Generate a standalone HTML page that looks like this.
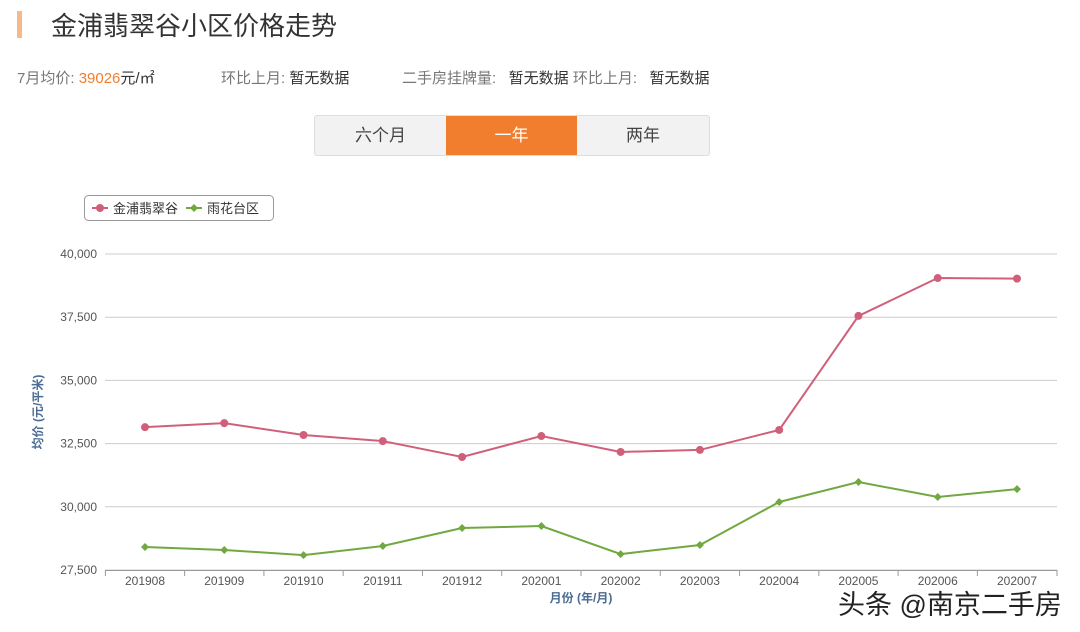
<!DOCTYPE html>
<html><head><meta charset="utf-8"><style>
body{margin:0;width:1080px;height:632px;background:#fff;font-family:"Liberation Sans","Noto Sans CJK SC",sans-serif;position:relative;overflow:hidden}
.a{position:absolute;white-space:nowrap}
</style></head><body>
<div class="a" style="left:17px;top:11px;width:5px;height:27px;background:#f5b98a"></div>
<div class="a" style="left:51px;top:6px;font-size:26px;color:#333">金浦翡翠谷小区价格走势</div>
<div class="a" style="left:17px;top:67px;font-size:15px;color:#777">7月均价: <span style="color:#f07e2e">39026</span><span style="color:#333">元/㎡</span></div>
<div class="a" style="left:221px;top:67px;font-size:15px;color:#777">环比上月: <span style="color:#333">暂无数据</span></div>
<div class="a" style="left:402px;top:67px;font-size:15px;color:#777">二手房挂牌量: &nbsp;&nbsp;<span style="color:#333">暂无数据</span> 环比上月: &nbsp;&nbsp;<span style="color:#333">暂无数据</span></div>
<div class="a" style="left:314px;top:115px;width:394px;height:39px;border:1px solid #ddd;border-radius:3px;background:#f2f2f2;display:flex;font-size:17px;color:#444;overflow:hidden">
<div style="width:131px;text-align:center;line-height:39px">六个月</div>
<div style="width:131px;text-align:center;line-height:39px;background:#f07e2e;color:#fff">一年</div>
<div style="width:132px;text-align:center;line-height:39px">两年</div>
</div>
<div class="a" style="left:838px;top:583px;font-size:27px;color:#222">头条 @南京二手房</div>
<svg class="a" style="left:0;top:0" width="1080" height="632" id="chart"></svg>
<script>
const categories=["201908","201909","201910","201911","201912","202001","202002","202003","202004","202005","202006","202007"];
const seriesJinpu=[33150,33310,32840,32600,31970,32800,32170,32250,33040,37550,39050,39026];
const seriesYuhua=[28410,28290,28090,28450,29160,29240,28130,28490,30190,30980,30390,30700];
const yTicks=[27500,30000,32500,35000,37500,40000];
const NS="http://www.w3.org/2000/svg",svg=document.getElementById('chart');
const L=105,R=1057,x0=145,step=(1017-145)/11;
const xs=i=>x0+i*step, ys=v=>570-(v-27500)/2500*63.2;
function mk(t,a,p){const e=document.createElementNS(NS,t);for(const k in a)e.setAttribute(k,a[k]);(p||svg).appendChild(e);return e;}
yTicks.forEach(v=>{
 const g=mk('line',{x1:L,x2:R,y1:ys(v),y2:ys(v),stroke:'#ccc','stroke-width':1});
 
 
 const t=mk('text',{x:97,y:ys(v)+4,'text-anchor':'end','font-size':12,fill:'#555'});t.textContent=v.toLocaleString('en-US');
 
 
});
mk('line',{x1:L,x2:R,y1:570.5,y2:570.5,stroke:'#999'});
categories.forEach((c,i)=>{
 const tk=mk('line',{x1:xs(i)-step/2,x2:xs(i)-step/2,y1:570,y2:576,stroke:'#999'});
 
 
 const t=mk('text',{x:xs(i),y:585,'text-anchor':'middle','font-size':12,fill:'#555'});t.textContent=c;
 
 
});
mk('line',{x1:R,x2:R,y1:570,y2:576,stroke:'#999'});
let xt=mk('text',{x:581,y:602,'text-anchor':'middle','font-size':12,fill:'#4a6c93','font-weight':'bold'});xt.textContent='月份 (年/月)';


let yt=mk('text',{x:42,y:412,'text-anchor':'middle','font-size':12,fill:'#4a6c93','font-weight':'bold',transform:'rotate(-90 42 412)'});yt.textContent='均价 (元/平米)';


function series(vals,color,name,diamond){
 const p=mk('polyline',{points:vals.map((v,i)=>xs(i)+','+ys(v)).join(' '),fill:'none',stroke:color,'stroke-width':2});
 
 
 vals.forEach((v,i)=>{
  const x=xs(i),y=ys(v);
  const m=diamond?mk('path',{d:`M${x} ${y-4}L${x+4} ${y}L${x} ${y+4}L${x-4} ${y}Z`,fill:color}):mk('circle',{cx:x,cy:y,r:4,fill:color});
  
  
 });
}
series(seriesJinpu,'#d0607a','jinpu',false);
series(seriesYuhua,'#72a840','yuhua',true);
const lg=mk('g',{});


mk('rect',{x:84.5,y:195.5,width:189,height:25,rx:4,fill:'#fff',stroke:'#999'},lg);
mk('line',{x1:92,x2:108,y1:208,y2:208,stroke:'#d0607a','stroke-width':2},lg);
mk('circle',{cx:100,cy:208,r:4,fill:'#d0607a'},lg);
let t1=mk('text',{x:113,y:213,'font-size':13,fill:'#333'},lg);t1.textContent='金浦翡翠谷';


mk('line',{x1:186,x2:202,y1:208,y2:208,stroke:'#72a840','stroke-width':2},lg);
mk('path',{d:'M194 204L198 208L194 212L190 208Z',fill:'#72a840'},lg);
let t2=mk('text',{x:207,y:213,'font-size':13,fill:'#333'},lg);t2.textContent='雨花台区';


</script>
</body></html>
